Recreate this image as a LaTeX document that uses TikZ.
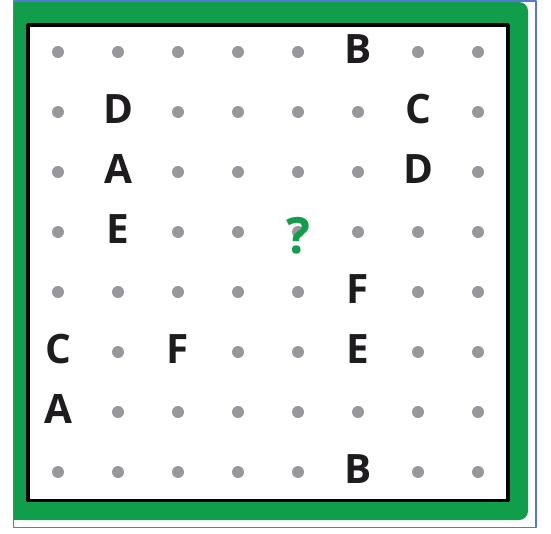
\documentclass[tikz,border=0pt]{standalone}
\usepackage{fontspec}
\setmainfont{Open Sans}
\definecolor{framegreen}{RGB}{16,158,74}
\definecolor{dotgray}{RGB}{152,152,156}
\definecolor{edgeblue}{RGB}{82,122,212}
\definecolor{inkblack}{RGB}{30,28,30}
\begin{document}
\begin{tikzpicture}[x=1pt,y=-1pt,line join=round,
  letter/.style={anchor=base,inner sep=0pt,text=inkblack,
    font=\bfseries\fontsize{40.5}{41}\selectfont},
  quest/.style={anchor=base,inner sep=0pt,text=framegreen,
    font=\bfseries\fontsize{50}{50}\selectfont},
  gdot/.style={fill=dotgray}]
\useasboundingbox (0,0) rectangle (551,533);
% frame
\draw[edgeblue,line width=1.2pt] (13.5,1) rectangle (536,527.5);
\fill[framegreen,rounded corners=9pt] (14,2) rectangle (528,520);
\fill[framegreen] (14,2) rectangle (100,520);
\filldraw[fill=white,draw=black,line width=3.8pt] (28,25) rectangle (508,500.5);
% dots, row by row
\foreach \r/\cols in {1/{1,2,3,4,5,7,8},2/{1,3,4,5,6,8},3/{1,3,4,5,6,8},
  4/{1,3,4,5,6,7,8},5/{1,2,3,4,5,7,8},6/{2,4,5,7,8},7/{2,3,4,5,6,7,8},
  8/{1,2,3,4,5,7,8}}
  \foreach \c in \cols
    \fill[gdot] ({58+60*(\c-1)},{52+60*(\r-1)}) circle[radius=6pt];
% letters
\node[letter] (B1) at (358,63) {B};
\node[letter] (D1) at (118,123) {D};
\node[letter] (C1) at (418,123) {C};
\node[letter] (A1) at (118,183) {A};
\node[letter] (D2) at (418,183) {D};
\node[letter] (E1) at (118,243) {E};
\node[quest] (Q) at (298,253) {?};
\node[letter] (F1) at (358,303) {F};
\node[letter] (C2) at (58,363) {C};
\node[letter] (F2) at (178,363) {F};
\node[letter] (E2) at (358,363) {E};
\node[letter] (A2) at (58,423) {A};
\node[letter] (B2) at (358,483) {B};
\end{tikzpicture}
\end{document}
